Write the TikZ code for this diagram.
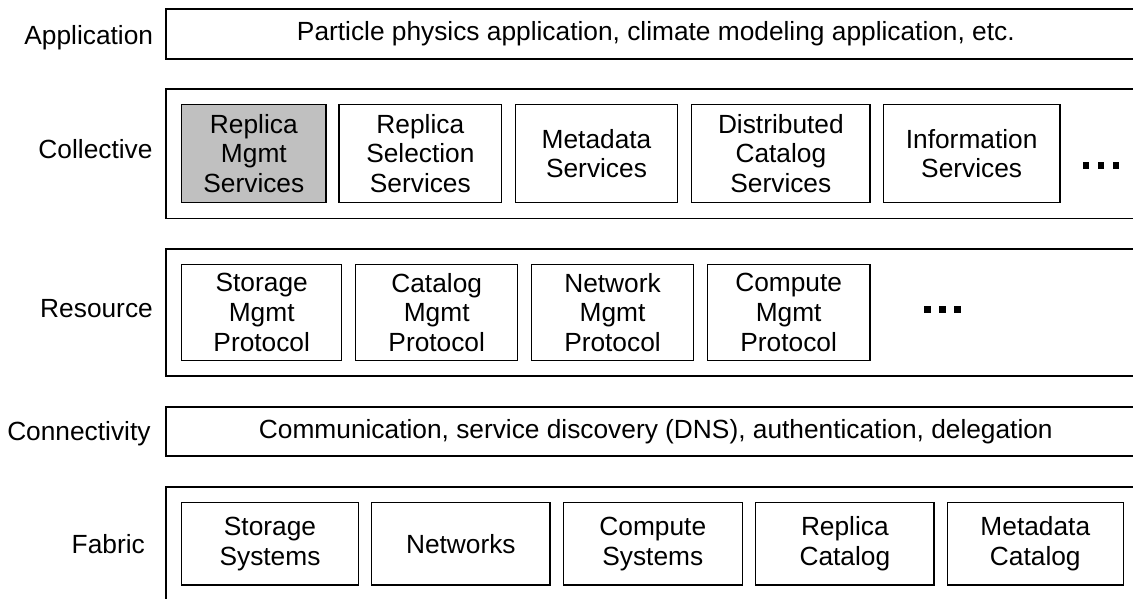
\documentclass[tikz,border=0pt]{standalone}
\usepackage{fontspec}
\setmainfont{Liberation Sans}
\definecolor{boxgray}{RGB}{192,192,192}
\begin{document}
\begin{tikzpicture}[x=1pt,y=-1pt,
  font=\fontsize{26.3pt}{29.7pt}\selectfont,
  layer/.style={draw, line width=1.9pt, minimum width=980.3pt, inner sep=0pt, align=center},
  item/.style={draw, line width=1.4pt, align=center, inner sep=0pt},
  lbl/.style={anchor=base east, inner sep=0pt},
  sq/.style={fill, minimum size=6.5pt, inner sep=0pt}]
\useasboundingbox (0,0) rectangle (1133,598);
\clip (0,0) rectangle (1133,598);

% layer labels
\node[lbl] (lapp) at (153.3,44) {Application};
\node[lbl] (lcol) at (152.7,158) {Collective};
\node[lbl] (lres) at (153,317.3) {Resource};
\node[lbl] (lcon) at (150.7,440.5) {Connectivity};
\node[lbl] (lfab) at (145,553) {Fabric};

% layer boxes
\node[layer, minimum height=50pt] (app) at (655.85,34) {Particle physics application, climate modeling application, etc.};
\node[layer, minimum height=129.5pt] (col) at (655.85,153.75) {};
\node[layer, minimum height=127pt] (res) at (655.85,312.5) {};
\node[layer, minimum height=49.6pt] (con) at (655.85,431.5) {Communication, service discovery (DNS), authentication, delegation};
\node[layer, minimum height=114.3pt] (fab) at (655.85,543.85) {};

% collective items
\node[item, fill=boxgray, minimum width=144.3pt, minimum height=98.4pt] (c1) at (253.85,153.5) {Replica\\Mgmt\\Services};
\node[item, minimum width=162.7pt, minimum height=98.4pt] (c2) at (420.35,153.5) {Replica\\Selection\\Services};
\node[item, minimum width=162.4pt, minimum height=98.4pt] (c3) at (596.5,153.5) {Metadata\\Services};
\node[item, minimum width=178.3pt, minimum height=98.4pt] (c4) at (780.85,153.5) {Distributed\\Catalog\\Services};
\node[item, minimum width=176.7pt, minimum height=98.4pt] (c5) at (971.65,153.5) {Information\\Services};
\node[sq] (cd1) at (1086,165.5) {};
\node[sq] (cd2) at (1101,165.5) {};
\node[sq] (cd3) at (1116,165.5) {};

% resource items
\node[item, minimum width=160pt, minimum height=96.4pt] (r1) at (261.7,312.5) {Storage\\Mgmt\\Protocol};
\node[item, minimum width=162pt, minimum height=96.4pt] (r2) at (436.7,312.5) {Catalog\\Mgmt\\Protocol};
\node[item, minimum width=161.6pt, minimum height=96.4pt] (r3) at (612.5,312.5) {Network\\Mgmt\\Protocol};
\node[item, minimum width=162.7pt, minimum height=96.4pt] (r4) at (788.65,312.5) {Compute\\Mgmt\\Protocol};
\node[sq] (rd1) at (927.3,309.7) {};
\node[sq] (rd2) at (942.3,309.7) {};
\node[sq] (rd3) at (957.3,309.7) {};

% fabric items
\node[item, minimum width=176.6pt, minimum height=82.3pt] (f1) at (270,543.85) {Storage\\Systems};
\node[item, minimum width=178.3pt, minimum height=82.3pt] (f2) at (460.85,543.85) {Networks};
\node[item, minimum width=179pt, minimum height=82.3pt] (f3) at (652.8,543.85) {Compute\\Systems};
\node[item, minimum width=178.3pt, minimum height=82.3pt] (f4) at (844.85,543.85) {Replica\\Catalog};
\node[item, minimum width=176pt, minimum height=82.3pt] (f5) at (1035.3,543.85) {Metadata\\Catalog};
\end{tikzpicture}
\end{document}
